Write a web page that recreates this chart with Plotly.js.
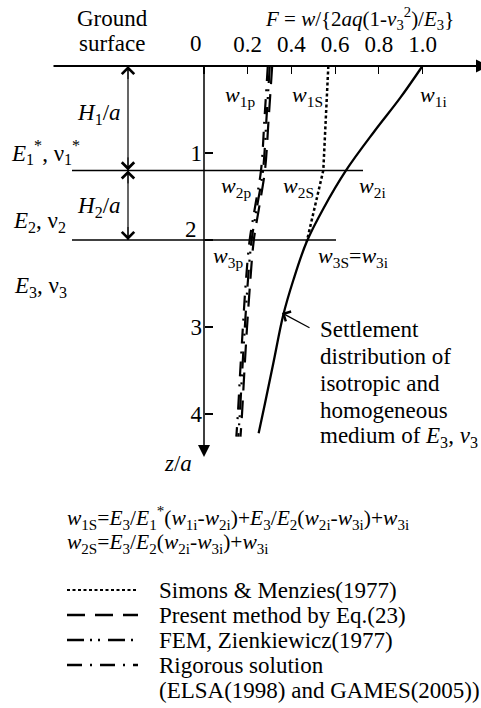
<!DOCTYPE html>
<html>
<head>
<meta charset="utf-8">
<script src="https://cdn.plot.ly/plotly-3.0.1.min.js"></script>
<style>
  html, body { margin: 0; padding: 0; background: #fff; }
  #chart { width: 481px; height: 708px; }
</style>
</head>
<body>
<div id="chart"></div>
<script>
// Settlement factor F = w / {2aq(1-v3^2)/E3} against normalised depth z/a

// Isotropic, homogeneous medium of E3, v3
const depthIso  = [0, 0.37, 0.75, 1.2, 1.64, 2.02, 2.46, 2.86, 3.42, 3.88, 4.22];
const settleIso = [1.0, 0.897, 0.78, 0.65, 0.546, 0.47, 0.409, 0.363, 0.317, 0.279, 0.25];

// Simons & Menzies (1977)
const depthSimons  = [0, 1.2, 2.02];
const settleSimons = [0.569, 0.546, 0.47];

// Layered solutions
const depthLayered    = [0, 0.6, 1.2, 1.6, 2.0, 2.5, 3.0, 3.5, 4.0, 4.26];
const settlePresent   = [0.312, 0.296, 0.279, 0.254, 0.228, 0.211, 0.197, 0.185, 0.174, 0.167];
const settleFEM       = [0.301, 0.286, 0.270, 0.244, 0.218, 0.200, 0.187, 0.175, 0.164, 0.157];
const settleRigorous  = [0.292, 0.277, 0.261, 0.235, 0.209, 0.191, 0.178, 0.166, 0.155, 0.148];

// Layer interfaces (H1/a and (H1+H2)/a)
const layerDepths = [1.2, 2.0];

// Axis ticks
const fTickVals = [0, 0.2, 0.4, 0.6, 0.8, 1.0];
const fTickText = ['', '0.2', '0.4', '0.6', '0.8', '1.0'];
const zTickVals = [1, 2, 3, 4];
const zTickText = ['1', '', '3', '4'];

// Legend entries
const legendNames = [
  'Simons &amp; Menzies(1977)',
  'Present method by Eq.(23)',
  'FEM, Zienkiewicz(1977)',
  'Rigorous solution'
];

// ---- page geometry ----
const W = 481, H = 708;
const X0 = 204, SX = 218.5;   // pixel of F = 0, pixels per unit F
const Z0 = 66,  SZ = 87;      // pixel of z = 0, pixels per unit z/a
const fx = p => (p - X0) / SX;
const fz = p => (p - Z0) / SZ;
const px = v => v / W;
const py = v => 1 - v / H;

const FONT = 'Liberation Serif';
const BLACK = '#000';

const dashSimons   = '3px,2.5px';
const dashPresent  = '18px,10px';
const dashFEM      = '17px,6px,2px,6px,2px,8px';
const dashRigorous = '15px,8px,2px,8px';

const traces = [
  { x: settleIso, y: depthIso, mode: 'lines', line: { color: BLACK, width: 2.3, shape: 'spline' }, hoverinfo: 'skip' },
  { x: settleSimons, y: depthSimons, mode: 'lines', line: { color: BLACK, width: 2.5, dash: dashSimons }, hoverinfo: 'skip' },
  { x: settlePresent, y: depthLayered, mode: 'lines', line: { color: BLACK, width: 2.2, dash: dashPresent, shape: 'spline' }, hoverinfo: 'skip' },
  { x: settleFEM, y: depthLayered, mode: 'lines', line: { color: BLACK, width: 2.2, dash: dashFEM, shape: 'spline' }, hoverinfo: 'skip' },
  { x: settleRigorous, y: depthLayered, mode: 'lines', line: { color: BLACK, width: 2.2, dash: dashRigorous, shape: 'spline' }, hoverinfo: 'skip' }
];

// ---- shapes ----
const layerEnds = [fx(363), fx(336)];
const shapes = layerDepths.map((d, i) => ({
  type: 'line', xref: 'x', yref: 'y', x0: fx(72), x1: layerEnds[i], y0: d, y1: d,
  line: { color: BLACK, width: 1.5 }
}));
// thickness dimension line
shapes.push({ type: 'line', xref: 'x', yref: 'y', x0: fx(128), x1: fx(128), y0: 0, y1: layerDepths[1],
  line: { color: BLACK, width: 1.2 } });
// legend keys
const legendDashes = [dashSimons, dashPresent, dashFEM, dashRigorous];
const legendWidths = [1.8, 2.5, 2.5, 2.5];
const legendRows = [590, 615, 640, 665];
legendRows.forEach((r, i) => shapes.push({
  type: 'line', xref: 'paper', yref: 'paper', x0: px(67), x1: px(138), y0: py(r), y1: py(r),
  line: { color: BLACK, width: legendWidths[i], dash: legendDashes[i] }
}));

// ---- annotations ----
function txt(text, x, y, size, xanchor) {
  return { text, xref: 'paper', yref: 'paper', x: px(x), y: py(y), showarrow: false,
    xanchor: xanchor || 'center', yanchor: 'middle', font: { family: FONT, size: size, color: BLACK } };
}
function arrow(x, y, ax, ay, opts) {
  return Object.assign({ text: ' ', xref: 'x', yref: 'y', x, y, ax, ay, showarrow: true,
    font: { size: 1 }, borderpad: 0, standoff: 0, startstandoff: 0, arrowcolor: BLACK }, opts);
}

const annotations = [
  txt('Ground', 112, 18, 23),
  txt('surface', 112, 44, 23),
  txt('<i>F</i> = <i>w</i>/{2<i>aq</i>(1-<i>ν</i><sub>3</sub><sup>2</sup>)/<i>E</i><sub>3</sub>}', 359, 18, 21),
  txt('0', 196, 43, 23),
  txt('2', 199, 230, 23, 'right'),
  txt('<i>H</i><sub>1</sub>/<i>a</i>', 123, 114, 23, 'right'),
  txt('<i>E</i><sub>1</sub><sup>*</sup>, ν<sub>1</sub><sup>*</sup>', 9, 153, 23, 'left'),
  txt('<i>H</i><sub>2</sub>/<i>a</i>', 123, 207, 23, 'right'),
  txt('<i>E</i><sub>2</sub>, ν<sub>2</sub>', 11, 222, 23, 'left'),
  txt('<i>E</i><sub>3</sub>, ν<sub>3</sub>', 12, 287, 23, 'left'),
  txt('<i>z</i>/<i>a</i>', 178, 464, 23),

  txt('<i>w</i><sub>1p</sub>', 240, 96, 22),
  txt('<i>w</i><sub>1S</sub>', 307, 96, 22),
  txt('<i>w</i><sub>1i</sub>', 433, 96, 22),
  txt('<i>w</i><sub>2p</sub>', 236, 187, 22),
  txt('<i>w</i><sub>2S</sub>', 298, 187, 22),
  txt('<i>w</i><sub>2i</sub>', 372, 187, 22),
  txt('<i>w</i><sub>3p</sub>', 228, 257, 22),
  txt('<i>w</i><sub>3S</sub>=<i>w</i><sub>3i</sub>', 353, 257, 22),

  txt('Settlement', 318, 329, 23, 'left'),
  txt('distribution of', 318, 356, 23, 'left'),
  txt('isotropic and', 318, 383, 23, 'left'),
  txt('homogeneous', 318, 410, 23, 'left'),
  txt('medium of <i>E</i><sub>3</sub>, <i>ν</i><sub>3</sub>', 318, 437, 23, 'left'),

  txt('<i>w</i><sub>1S</sub>=<i>E</i><sub>3</sub>/<i>E</i><sub>1</sub><sup>*</sup>(<i>w</i><sub>1i</sub>-<i>w</i><sub>2i</sub>)+<i>E</i><sub>3</sub>/<i>E</i><sub>2</sub>(<i>w</i><sub>2i</sub>-<i>w</i><sub>3i</sub>)+<i>w</i><sub>3i</sub>', 65, 518, 21.5, 'left'),
  txt('<i>w</i><sub>2S</sub>=<i>E</i><sub>3</sub>/<i>E</i><sub>2</sub>(<i>w</i><sub>2i</sub>-<i>w</i><sub>3i</sub>)+<i>w</i><sub>3i</sub>', 65, 543, 21.5, 'left'),

  txt('(ELSA(1998) and GAMES(2005))', 157, 690, 23, 'left'),

  // axes with arrowheads
  arrow(fx(489), 0, fx(53), 0, { axref: 'x', ayref: 'y', arrowhead: 2, arrowwidth: 2, arrowsize: 1.3 }),
  arrow(0, fz(457), 0, 0, { axref: 'x', ayref: 'y', arrowhead: 2, arrowwidth: 1.5, arrowsize: 1.6 }),

  // layer thickness arrows
  arrow(fx(128), 0, 0, 14, { arrowhead: 4, arrowwidth: 1, arrowsize: 2.4 }),
  arrow(fx(128), layerDepths[0], 0, -14, { arrowhead: 4, arrowwidth: 1, arrowsize: 2.4 }),
  arrow(fx(128), layerDepths[0], 0, 14, { arrowhead: 4, arrowwidth: 1, arrowsize: 2.4 }),
  arrow(fx(128), layerDepths[1], 0, -14, { arrowhead: 4, arrowwidth: 1, arrowsize: 2.4 }),

  // pointer to the isotropic curve
  arrow(fx(282), fz(313), 28, 15, { arrowhead: 4, arrowwidth: 1.2, arrowsize: 1.8 })
];
legendNames.forEach((n, i) => annotations.push(txt(n, 157, legendRows[i], 23, 'left')));

const layout = {
  width: W, height: H,
  margin: { l: 0, r: 0, t: 0, b: 0, pad: 0 },
  paper_bgcolor: '#fff', plot_bgcolor: '#fff',
  showlegend: false,
  font: { family: FONT, size: 23, color: BLACK },
  xaxis: {
    range: [fx(0), fx(W)], anchor: 'free', position: py(Z0), side: 'top',
    showline: false, showgrid: false, zeroline: false, automargin: false,
    tickmode: 'array', tickvals: fTickVals, ticktext: fTickText,
    ticks: 'inside', ticklen: 7, tickwidth: 1.2, tickcolor: BLACK,
    tickfont: { family: FONT, size: 23, color: BLACK }, ticklabelstandoff: 9
  },
  yaxis: {
    range: [fz(H), fz(0)], anchor: 'free', position: px(X0),
    showline: false, showgrid: false, zeroline: false, automargin: false,
    tickmode: 'array', tickvals: zTickVals, ticktext: zTickText,
    ticks: 'inside', ticklen: 8, tickwidth: 1.2, tickcolor: BLACK,
    tickfont: { family: FONT, size: 23, color: BLACK }, ticklabelstandoff: 2
  },
  shapes, annotations
};

Plotly.newPlot('chart', traces, layout, { staticPlot: true, displayModeBar: false });
</script>
</body>
</html>
